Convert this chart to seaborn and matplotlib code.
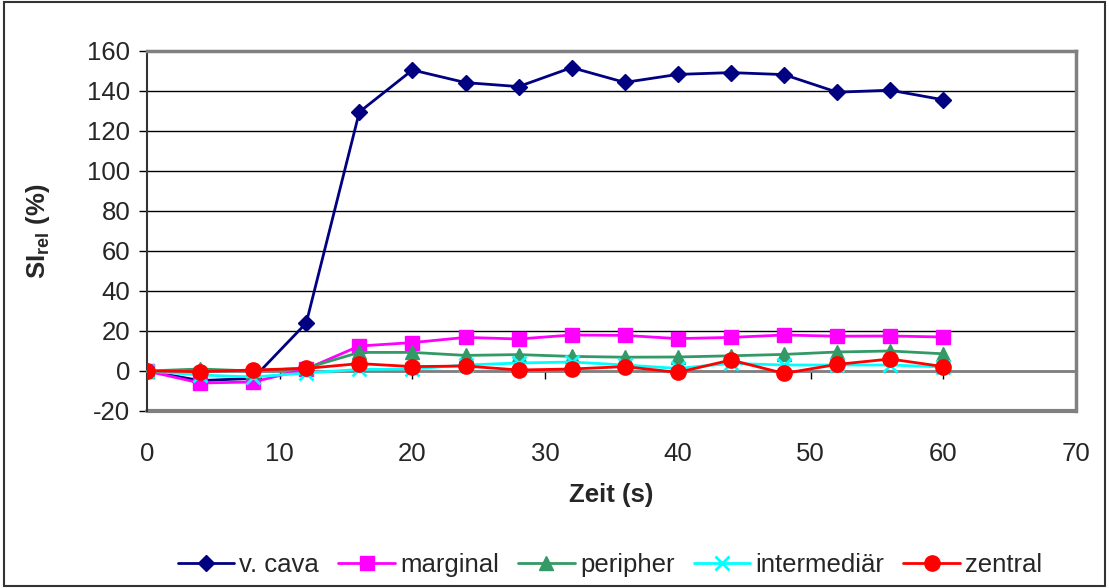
import pandas as pd
import matplotlib.pyplot as plt
import seaborn as sns
from matplotlib.patches import Rectangle

# data
zeit = [0, 4, 8, 12, 16, 20, 24, 28, 32, 36, 40, 44, 48, 52, 56, 60]
v_cava = [0, -4.8, -3.7, 24, 129.5, 150.5, 144.2, 142.2, 151.7, 144.3, 148.3, 149.2, 148.2, 139.4, 140.4, 135.6]
marginal = [0, -6, -5.5, 1, 12.5, 14.2, 16.8, 16, 18, 17.8, 16.2, 16.8, 18, 17.4, 17.5, 17]
peripher = [0, 1, 0, 1.5, 9.3, 9.3, 7.8, 8.2, 7.3, 6.9, 7, 7.6, 8.3, 9.5, 10, 8.6]
intermediaer = [0, -2, -3, -1, 0.8, 1, 3, 4, 4.5, 3, 1.3, 3.8, 3, 3, 3, 2]
zentral = [0, -0.3, 0.5, 1.3, 3.7, 2.2, 2.5, 0.5, 1, 2.2, -0.7, 5.5, -1.2, 3.3, 6, 2.2]

serien = ['v. cava', 'marginal', 'peripher', 'intermediär', 'zentral']
farben = ['#000080', '#FF00FF', '#339966', '#00FFFF', '#FF0000']
marker = ['D', 's', '^', 'x', 'o']
msize = [8, 10, 10, 10, 11]

df = pd.DataFrame({'Zeit': zeit * 5,
                   'SI': v_cava + marginal + peripher + intermediaer + zentral,
                   'Serie': [s for s in serien for _ in zeit]})

sns.set_style('white')
plt.rcParams['font.family'] = ['Liberation Sans', 'DejaVu Sans']
plt.rcParams['axes.unicode_minus'] = False
plt.rcParams['mathtext.fontset'] = 'custom'
plt.rcParams['mathtext.bf'] = 'Liberation Sans:bold'
plt.rcParams['mathtext.rm'] = 'Liberation Sans'

fs = 18.5

fig = plt.figure(figsize=(11.09, 5.88), dpi=100)
ax = fig.add_axes([147/1109, 1 - 411/588, (1076 - 147)/1109, (411 - 51)/588])

for s, c, m, ms in zip(serien, farben, marker, msize):
    sns.lineplot(data=df[df['Serie'] == s], x='Zeit', y='SI', ax=ax,
                 color=c, marker=m, markersize=ms, markeredgecolor=c,
                 markeredgewidth=2 if m == 'x' else 1,
                 linewidth=2, label=s, zorder=3)

ax.set_xlim(0, 70)
ax.set_ylim(-20, 160)
ax.set_xticks(range(0, 71, 10))
ax.set_yticks(range(-20, 161, 20))

ax.yaxis.grid(True, color='black', linewidth=1)
ax.xaxis.grid(False)

ax.spines['bottom'].set_position(('data', 0))
ax.spines['bottom'].set_color('#808080')
ax.spines['bottom'].set_linewidth(2)
for sp in ['top', 'right']:
    ax.spines[sp].set_color('#808080')
    ax.spines[sp].set_linewidth(2.5)
ax.spines['left'].set_color('#333333')
ax.spines['left'].set_linewidth(1.5)
ax.axhline(-20, color='#808080', linewidth=3, clip_on=False, zorder=2.5)

ax.tick_params(axis='x', direction='out', length=6, width=1, color='black',
               pad=45, labelsize=fs, bottom=True)
ax.tick_params(axis='y', direction='out', length=6, width=1, color='black',
               pad=6, labelsize=fs, left=True)

ax.set_xlabel('Zeit (s)', fontsize=fs, fontweight='bold')
ax.xaxis.set_label_coords(0.5, -0.2)
ax.set_ylabel(r'SI$_{\mathbf{rel}}$ (%)', fontsize=fs, fontweight='bold')
ax.yaxis.set_label_coords(-0.102, 0.5)

ax.legend(loc='center', bbox_to_anchor=(610/1109, 1 - 565/588),
          bbox_transform=fig.transFigure, ncol=5, frameon=False,
          fontsize=fs, handlelength=2.2, handletextpad=0.2, columnspacing=0.75)

fig.patches.append(Rectangle((0.004, 0.004), 0.992, 0.992, transform=fig.transFigure,
                             fill=False, edgecolor='#333333', linewidth=1.5))

plt.savefig('out.png', dpi=100)
